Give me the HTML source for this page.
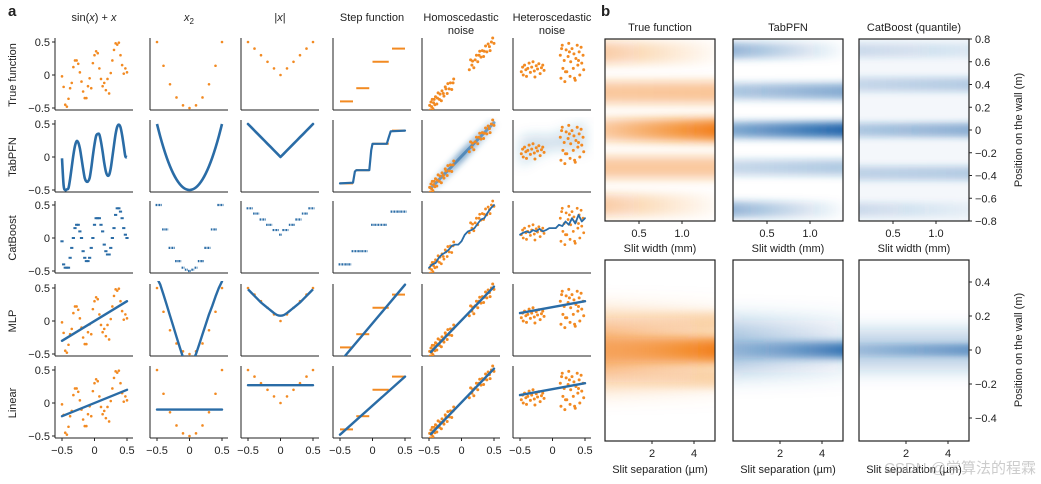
<!DOCTYPE html>
<html><head><meta charset="utf-8">
<style>
body{margin:0;background:#fff;}
svg{display:block;font-family:"Liberation Sans",Arial,sans-serif;}
text{fill:#222;}
</style></head>
<body>
<svg id="fig" width="1041" height="484" viewBox="0 0 1041 484" xmlns="http://www.w3.org/2000/svg">
<defs id="defs"></defs>
<g id="layer"></g>
</svg>
<script>
// ---------- data ----------
const gridX = [-0.5,-0.45,-0.4,-0.35,-0.3,-0.25,-0.2,-0.15,-0.1,-0.05,0,0.05,0.1,0.15,0.2,0.25,0.3,0.35,0.4,0.45,0.5];
const sinX = [-0.5,-0.475,-0.45,-0.425,-0.4,-0.375,-0.35,-0.325,-0.3,-0.275,-0.25,-0.225,-0.2,-0.175,-0.15,-0.125,-0.1,-0.075,-0.05,-0.025,0,0.025,0.05,0.075,0.1,0.125,0.15,0.175,0.2,0.225,0.25,0.275,0.3,0.325,0.35,0.375,0.4,0.425,0.45,0.475,0.5];
const sinY = [-0.02,-0.43,-0.5,-0.49,-0.47,-0.33,-0.15,0.03,0.17,0.24,0.22,0.13,-0.02,-0.18,-0.32,-0.37,-0.37,-0.32,-0.17,0.02,0.19,0.32,0.35,0.34,0.23,0.08,-0.09,-0.22,-0.28,-0.27,-0.17,0.0,0.18,0.35,0.46,0.49,0.45,0.33,0.17,0.01,0.0];
const sinTrue = [-0.02,-0.18,-0.45,-0.48,-0.36,-0.2,-0.12,0.12,0.22,0.22,0.17,0.04,-0.1,-0.25,-0.35,-0.35,-0.17,-0.05,-0.2,0.18,0.3,0.36,0.33,0.1,-0.06,-0.17,-0.12,-0.23,-0.06,-0.28,0.03,0.22,0.38,0.48,0.46,0.49,0.3,0.15,0.02,0.1,0.04];
const sinCat = [-0.05,-0.4,-0.45,-0.45,-0.45,-0.3,-0.15,0.0,0.15,0.2,0.2,0.1,0.0,-0.2,-0.3,-0.35,-0.35,-0.3,-0.15,0.0,0.2,0.3,0.3,0.3,0.2,0.1,-0.1,-0.2,-0.25,-0.25,-0.15,0.0,0.15,0.35,0.45,0.45,0.4,0.3,0.15,0.05,0.0];
const sinMLP = [-0.3,0.3];
const sinLin = [-0.2,0.2];
const sqTrueX = [-0.5,-0.4,-0.3,-0.2,-0.1,0,0.1,0.2,0.3,0.4,0.5];
const sqTrueY = [0.5,0.14,-0.14,-0.34,-0.46,-0.5,-0.46,-0.34,-0.14,0.14,0.5];
const sqTab = [0.5,0.31,0.14,-0.01,-0.14,-0.25,-0.34,-0.41,-0.46,-0.49,-0.5,-0.49,-0.46,-0.41,-0.34,-0.25,-0.14,-0.01,0.14,0.31,0.5];
const sqCat = [0.5,0.5,0.13,0.13,-0.15,-0.15,-0.35,-0.35,-0.45,-0.48,-0.5,-0.48,-0.45,-0.35,-0.35,-0.15,-0.15,0.13,0.13,0.5,0.5];
const sqMLP = [0.65,0.55,0.4,0.24,0.08,-0.08,-0.24,-0.4,-0.55,-0.6,-0.6,-0.6,-0.5,-0.35,-0.2,-0.05,0.1,0.23,0.37,0.5,0.6];
const sqLin = [-0.1,-0.1];
const absTrueY = [0.5,0.4,0.3,0.2,0.1,0,0.1,0.2,0.3,0.4,0.5];
const absTab = [0.5,0.45,0.4,0.35,0.3,0.25,0.2,0.15,0.1,0.05,0.0,0.05,0.1,0.15,0.2,0.25,0.3,0.35,0.4,0.45,0.5];
const absCat = [0.45,0.45,0.37,0.37,0.28,0.28,0.2,0.2,0.12,0.12,0.05,0.12,0.12,0.2,0.2,0.28,0.28,0.37,0.37,0.45,0.45];
const absMLP = [0.48,0.43,0.38,0.33,0.28,0.24,0.2,0.16,0.12,0.09,0.08,0.09,0.12,0.16,0.2,0.24,0.28,0.33,0.38,0.43,0.48];
const absLin = [0.27,0.27];
const stepX0 = [-0.5,-0.25,0.0,0.3];
const stepX1 = [-0.3,-0.05,0.25,0.5];
const stepLvl = [-0.4,-0.2,0.2,0.4];
const stepTabX = [-0.5,-0.3,-0.27,-0.25,-0.05,-0.02,0.0,0.22,0.25,0.28,0.5];
const stepTabY = [-0.4,-0.39,-0.22,-0.2,-0.2,0.1,0.2,0.2,0.3,0.39,0.4];
const stepCat = [-0.4,-0.4,-0.4,-0.4,-0.2,-0.2,-0.2,-0.2,-0.2,null,0.2,0.2,0.2,0.2,0.2,null,0.4,0.4,0.4,0.4,0.4];
const stepMLP = [-0.62,0.55];
const stepLin = [-0.48,0.4];
const homoX = [-0.49,-0.48,-0.47,-0.46,-0.45,-0.44,-0.43,-0.42,-0.41,-0.4,-0.38,-0.37,-0.36,-0.34,-0.33,-0.31,-0.3,-0.28,-0.27,-0.25,-0.24,-0.22,-0.21,-0.19,-0.17,-0.15,-0.13,-0.12,0.12,0.14,0.16,0.17,0.19,0.21,0.23,0.25,0.27,0.28,0.3,0.32,0.34,0.35,0.37,0.39,0.41,0.43,0.44,0.46,0.48,0.5];
const homoN = [0.03,-0.05,0.06,-0.02,0.08,-0.07,0.01,0.05,-0.04,0.07,-0.06,0.02,0.09,-0.03,0.04,-0.08,0.06,0.0,-0.05,0.07,0.03,-0.06,0.08,-0.02,0.05,-0.07,0.01,0.06,-0.04,0.09,-0.01,0.04,-0.08,0.02,0.07,-0.05,0.03,0.08,-0.03,0.05,-0.06,0.01,0.07,-0.04,0.06,0.0,-0.07,0.04,0.08,-0.02];
const homoCat = [-0.45,-0.4,-0.38,-0.3,-0.25,-0.22,-0.18,-0.12,-0.1,-0.1,-0.05,0.05,0.1,0.12,0.15,0.22,0.28,0.3,0.38,0.45,0.5];
const homoLine = [-0.47,0.52];
const hetX = [-0.48,-0.46,-0.45,-0.43,-0.41,-0.4,-0.38,-0.36,-0.34,-0.32,-0.3,-0.28,-0.27,-0.25,-0.23,-0.21,-0.19,-0.17,-0.15,-0.13,0.12,0.13,0.15,0.16,0.18,0.19,0.21,0.22,0.24,0.25,0.27,0.28,0.3,0.32,0.33,0.35,0.36,0.38,0.39,0.41,0.42,0.44,0.45,0.47,0.48,0.14,0.2,0.26,0.34,0.4];
const hetY = [0.05,0.12,0.0,0.15,0.08,-0.02,0.1,0.18,0.04,0.12,0.2,0.06,-0.03,0.14,0.09,0.17,0.02,0.11,0.15,0.07,0.3,-0.05,0.45,0.1,0.22,-0.1,0.38,0.05,0.28,0.48,-0.02,0.2,0.4,0.1,0.32,-0.08,0.25,0.45,0.15,0.35,0.0,0.42,0.18,0.3,0.08,0.4,0.05,0.35,-0.05,0.22];
const hetCat = [0.05,0.08,0.1,0.08,0.12,0.1,0.14,0.1,0.12,0.15,0.15,0.15,0.2,0.18,0.25,0.2,0.3,0.22,0.35,0.25,0.3];
const hetTab = [0.08,0.1,0.12,0.14,0.16,0.17,0.18,0.19,0.2,0.21,0.22,0.23,0.24,0.25,0.26,0.27,0.28,0.28,0.29,0.29,0.3];
const hetLine = [0.12,0.3];
const colTitles = ["sin(x) + x","x2","|x|","Step function","Homoscedastic|noise","Heteroscedastic|noise"];
const rowTitles = ["True function","TabPFN","CatBoost","MLP","Linear"];
const yTicks = [0.5,0,-0.5];
const xTicks = [-0.5,0,0.5];
// heatmap bands (panel b)
const tfTopC = [0.68,0.33,0,-0.33,-0.66], tfTopL=[0.4,0.42,0.4,0.42,0.4], tfTopR=[0.02,0.45,1.0,0.42,0.02];
const tbTopC = [0.7,0.34,0,-0.33,-0.7], tbTopL=[0.5,0.35,0.55,0.25,0.5], tbTopR=[0.0,0.55,1.0,0.35,0.0];
const cbTopC = [0.7,0.4,0,-0.38,-0.7], cbTopL=[0.2,0.22,0.32,0.25,0.2], cbTopR=[0.1,0.3,0.5,0.3,0.05];
const topTicks = [0.8,0.6,0.4,0.2,0,-0.2,-0.4,-0.6,-0.8];
const botTicks = [0.4,0.2,0,-0.2,-0.4];
const widthTicks = [0.5,1.0];
const sepTicks = [2,4];

// ---------- helpers ----------
const NS="http://www.w3.org/2000/svg";
const layer=document.getElementById('layer');
const defs=document.getElementById('defs');
const ORANGE="#f28a22", BLUE="#2a6ca6";
function mk(tag,attrs,parent){const e=document.createElementNS(NS,tag);for(const k in attrs)e.setAttribute(k,attrs[k]);(parent||layer).appendChild(e);return e;}
function txt(s,x,y,size,anchor,parent,extra){const t=mk('text',Object.assign({x:x,y:y,'font-size':size,'text-anchor':anchor||'middle'},extra||{}),parent);t.textContent=s;return t;}
const colL=[55,150,241,333,422,513];
const rowT=[38,120,201,284,366];
function sx(c,v){return colL[c]+7+(v+0.5)*65;}
function sy(r,v){return rowT[r]+4+(0.5-v)*66;}
function panelGroup(c,r){
  const id='clip'+c+'_'+r;
  const cp=mk('clipPath',{id:id},defs);mk('rect',{x:colL[c]+1,y:rowT[r]-3,width:80,height:75},cp);
  const g=mk('g',{'clip-path':'url(#'+id+')'});
  
  
  return g;
}
function dots(g,c,r,xs,ys,col,rad){xs.forEach((x,i)=>{if(ys[i]===null)return;const d=mk('circle',{cx:sx(c,x),cy:sy(r,ys[i]),r:rad||1.3,fill:col},g);});}
function poly(g,c,r,xs,ys,col,w){const p=xs.map((x,i)=>sx(c,x).toFixed(1)+','+sy(r,ys[i]).toFixed(1)).join(' ');const l=mk('polyline',{points:p,fill:'none',stroke:col,'stroke-width':w||2.4,'stroke-linejoin':'round','stroke-linecap':'round'},g);return l;}
function smooth(g,c,r,xs,ys,col,w){
  const P=xs.map((x,i)=>[sx(c,x),sy(r,ys[i])]);let d='M'+P[0][0]+','+P[0][1];
  for(let i=0;i<P.length-1;i++){const p0=P[Math.max(0,i-1)],p1=P[i],p2=P[i+1],p3=P[Math.min(P.length-1,i+2)];
    d+=' C'+(p1[0]+(p2[0]-p0[0])/6)+','+(p1[1]+(p2[1]-p0[1])/6)+' '+(p2[0]-(p3[0]-p1[0])/6)+','+(p2[1]-(p3[1]-p1[1])/6)+' '+p2[0]+','+p2[1];}
  const l=mk('path',{d:d,fill:'none',stroke:col,'stroke-width':w||2.4},g);}
function catDots(g,c,r,xs,ys){
  for(let i=0;i<xs.length;i++){if(ys[i]===null)continue;const x0=xs[i]-0.022,x1=xs[i]+0.022;
    const l=mk('line',{x1:sx(c,x0),x2:sx(c,x1),y1:sy(r,ys[i]),y2:sy(r,ys[i]),stroke:BLUE,'stroke-width':2.2,'stroke-dasharray':'1.6 0.6'},g);
    }}
function endLine(g,c,r,ys,col){return poly(g,c,r,[-0.5,0.5],ys,col,2.4);}

// ---------- panel a ----------
txt('a',8,16,15,'start',null,{'font-weight':'bold'});
colTitles.forEach((t,c)=>{
  const cx=colL[c]+39;const parts=t.split('|');
  if(t==='x2'){const e=txt('',cx,21,11,'middle');e.innerHTML='<tspan font-style="italic">x</tspan><tspan font-size="8" dy="3">2</tspan>';return;}
  if(t==='sin(x) + x'){const e=txt('',cx,21,11,'middle');e.innerHTML='sin(<tspan font-style="italic">x</tspan>) + <tspan font-style="italic">x</tspan>';return;}
  if(t==='|x|'){const e=txt('',cx,21,11,'middle');e.innerHTML='|<tspan font-style="italic">x</tspan>|';return;}
  parts.forEach((p,k)=>{const e=txt(p,cx,21+k*13,11,'middle');});
});
rowTitles.forEach((t,r)=>{const cy=rowT[r]+37;const e=txt(t,16,cy,11,'middle',null,{transform:'rotate(-90 16 '+cy+')'});});

for(let r=0;r<5;r++){for(let c=0;c<6;c++){
  const ax=mk('g',{});
  const x0=colL[c],yb=rowT[r]+72;
  mk('line',{x1:x0,x2:x0,y1:rowT[r],y2:yb,stroke:'#222','stroke-width':1},ax);
  mk('line',{x1:x0,x2:x0+78,y1:yb,y2:yb,stroke:'#222','stroke-width':1},ax);
  if(c===0){yTicks.forEach(v=>{mk('line',{x1:x0-3,x2:x0,y1:sy(r,v),y2:sy(r,v),stroke:'#222'},ax);const e=txt(v===-0.5?'\u22120.5':String(v),x0-5,sy(r,v)+4,11,'end',ax);});}
  if(r===4){xTicks.forEach(v=>{mk('line',{x1:sx(c,v),x2:sx(c,v),y1:yb,y2:yb+3,stroke:'#222'},ax);const e=txt(v===-0.5?'\u22120.5':String(v),sx(c,v),yb+16,11,'middle',ax);});}
}}

let g=panelGroup(0,0);dots(g,0,0,sinX,sinTrue,ORANGE);
g=panelGroup(0,1);smooth(g,0,1,sinX,sinY,BLUE,2.6);
g=panelGroup(0,2);sinX.forEach((x,i)=>{const d=mk('rect',{x:sx(0,x)-1.6,y:sy(2,sinCat[i])-1,width:3.2,height:2,fill:BLUE},g);});
g=panelGroup(0,3);dots(g,0,3,sinX,sinTrue,ORANGE);endLine(g,0,3,sinMLP,BLUE);
g=panelGroup(0,4);dots(g,0,4,sinX,sinTrue,ORANGE);endLine(g,0,4,sinLin,BLUE);
g=panelGroup(1,0);dots(g,1,0,sqTrueX,sqTrueY,ORANGE);
g=panelGroup(1,1);smooth(g,1,1,gridX,sqTab,BLUE,2.6);
g=panelGroup(1,2);catDots(g,1,2,gridX,sqCat);
g=panelGroup(1,3);dots(g,1,3,sqTrueX,sqTrueY,ORANGE);poly(g,1,3,gridX,sqMLP,BLUE);
g=panelGroup(1,4);dots(g,1,4,sqTrueX,sqTrueY,ORANGE);endLine(g,1,4,sqLin,BLUE);
g=panelGroup(2,0);dots(g,2,0,sqTrueX,absTrueY,ORANGE);
g=panelGroup(2,1);poly(g,2,1,gridX,absTab,BLUE,2.6);
g=panelGroup(2,2);catDots(g,2,2,gridX,absCat);
g=panelGroup(2,3);dots(g,2,3,sqTrueX,absTrueY,ORANGE);smooth(g,2,3,gridX,absMLP,BLUE);
g=panelGroup(2,4);dots(g,2,4,sqTrueX,absTrueY,ORANGE);endLine(g,2,4,absLin,BLUE);
function stepSegs(g,r){stepLvl.forEach((v,i)=>{const l=mk('line',{x1:sx(3,stepX0[i]),x2:sx(3,stepX1[i]),y1:sy(r,v),y2:sy(r,v),stroke:ORANGE,'stroke-width':2},g);});}
g=panelGroup(3,0);stepSegs(g,0);
g=panelGroup(3,1);stepSegs(g,1);poly(g,3,1,stepTabX,stepTabY,BLUE,2.2);
g=panelGroup(3,2);catDots(g,3,2,gridX,stepCat);
g=panelGroup(3,3);stepSegs(g,3);endLine(g,3,3,stepMLP,BLUE);
g=panelGroup(3,4);stepSegs(g,4);endLine(g,3,4,stepLin,BLUE);
const homoY=homoX.map((x,i)=>x+homoN[i]);
g=panelGroup(4,0);dots(g,4,0,homoX,homoY,ORANGE,1.5);
g=panelGroup(4,1);
{const gr=mk('linearGradient',{id:'homoBand',x1:0,y1:0,x2:1,y2:0},defs);mk('stop',{offset:0,'stop-color':BLUE,'stop-opacity':0.15},gr);mk('stop',{offset:0.5,'stop-color':BLUE,'stop-opacity':0.6},gr);mk('stop',{offset:1,'stop-color':BLUE,'stop-opacity':0.15},gr);
 const f=mk('filter',{id:'blur3',x:'-50%',y:'-50%',width:'200%',height:'200%'},defs);mk('feGaussianBlur',{stdDeviation:3},f);
 const l=mk('line',{x1:sx(4,-0.47),y1:sy(1,homoLine[0]),x2:sx(4,0.5),y2:sy(1,homoLine[1]),stroke:'url(#homoBand)','stroke-width':9,filter:'url(#blur3)'},g);}
poly(g,4,1,[-0.47,0.5],homoLine,'rgba(42,108,166,0.6)',3);
dots(g,4,1,homoX,homoY,ORANGE,1.5);
g=panelGroup(4,2);dots(g,4,2,homoX,homoY,ORANGE,1.4);poly(g,4,2,gridX,homoCat,BLUE,1.8);
g=panelGroup(4,3);dots(g,4,3,homoX,homoY,ORANGE,1.5);poly(g,4,3,[-0.47,0.5],homoLine,BLUE);
g=panelGroup(4,4);dots(g,4,4,homoX,homoY,ORANGE,1.5);poly(g,4,4,[-0.47,0.5],homoLine,BLUE);
g=panelGroup(5,0);dots(g,5,0,hetX,hetY,ORANGE,1.5);
g=panelGroup(5,1);
{const f=mk('filter',{id:'blur6',x:'-50%',y:'-50%',width:'200%',height:'200%'},defs);mk('feGaussianBlur',{stdDeviation:6},f);
 const P=gridX.map((x,i)=>sx(5,x)+','+sy(1,hetTab[i]+0.1+Math.abs(x)*0.25)).concat(gridX.slice().reverse().map((x,i)=>sx(5,x)+','+sy(1,hetTab[20-i]-0.1-Math.abs(x)*0.25))).join(' ');
 const pg=mk('polygon',{points:P,fill:'rgba(42,108,166,0.22)',filter:'url(#blur6)'},g);}
dots(g,5,1,hetX,hetY,ORANGE,1.5);
g=panelGroup(5,2);dots(g,5,2,hetX,hetY,ORANGE,1.4);poly(g,5,2,gridX,hetCat,BLUE,1.8);
g=panelGroup(5,3);dots(g,5,3,hetX,hetY,ORANGE,1.5);endLine(g,5,3,hetLine,BLUE);
g=panelGroup(5,4);dots(g,5,4,hetX,hetY,ORANGE,1.5);endLine(g,5,4,hetLine,BLUE);

// ---------- panel b ----------
txt('b',601,16,15,'start',null,{'font-weight':'bold'});
const boxX=[605,733,859], boxW=110;
const topY0=39, topY1=221, botY0=260, botY1=441;
function tyTop(v){return topY0+(0.8-v)*(topY1-topY0)/1.6;}
function tyBot(v){return 350-v*170;}
function wx(b,v){return boxX[b]+34+(v-0.5)*86;}
function sepx(b,v){return boxX[b]+47+(v-2)*21;}
const rgbO='242,125,20', rgbB='33,102,172';
let gid=0;
function band(gp,b,ypx,halfPx,aL,aR,rgb){
  const id='bg'+(gid++);const gr=mk('linearGradient',{id:id,x1:0,y1:0,x2:1,y2:0},defs);
  mk('stop',{offset:0,'stop-color':'rgb('+rgb+')','stop-opacity':aL},gr);mk('stop',{offset:1,'stop-color':'rgb('+rgb+')','stop-opacity':aR},gr);
  const fid='bf'+id;const f=mk('filter',{id:fid,x:'-10%',y:'-200%',width:'120%',height:'500%'},defs);mk('feGaussianBlur',{stdDeviation:'0 '+(halfPx*0.45)},f);
  const r=mk('rect',{x:boxX[b]-5,y:ypx-halfPx,width:boxW+10,height:2*halfPx,fill:'url(#'+id+')',filter:'url(#'+fid+')'},gp);
  
}
function heatBox(b,y0,y1,name){
  const id='hc'+b+'_'+y0;const cp=mk('clipPath',{id:id},defs);mk('rect',{x:boxX[b],y:y0,width:boxW,height:y1-y0},cp);
  const gp=mk('g',{'clip-path':'url(#'+id+')'});return gp;}
function frame(b,y0,y1){const r=mk('rect',{x:boxX[b],y:y0,width:boxW,height:y1-y0,fill:'none',stroke:'#222','stroke-width':1.2});}
let hp=heatBox(0,topY0,topY1,'heatmap-true-slit-width');tfTopC.forEach((c,i)=>band(hp,0,tyTop(c),11,tfTopL[i],tfTopR[i],rgbO));
hp=heatBox(1,topY0,topY1,'heatmap-tabpfn-slit-width');tbTopC.forEach((c,i)=>band(hp,1,tyTop(c),8,tbTopL[i],tbTopR[i],rgbB));
hp=heatBox(2,topY0,topY1,'heatmap-catboost-slit-width');mk('rect',{x:boxX[2],y:topY0,width:boxW,height:topY1-topY0,fill:'rgba(33,102,172,0.05)'},hp);cbTopC.forEach((c,i)=>band(hp,2,tyTop(c),7,cbTopL[i],cbTopR[i],rgbB));
hp=heatBox(0,botY0,botY1,'heatmap-true-slit-sep');band(hp,0,tyBot(0),32,0.6,0.2,rgbO);band(hp,0,tyBot(0),12,0.3,1.0,rgbO);band(hp,0,tyBot(0.17),9,0.0,0.25,rgbO);band(hp,0,tyBot(-0.17),9,0.0,0.25,rgbO);
hp=heatBox(1,botY0,botY1,'heatmap-tabpfn-slit-sep');band(hp,1,tyBot(0.02),26,0.4,0.12,rgbB);band(hp,1,tyBot(0),8,0.15,0.9,rgbB);
hp=heatBox(2,botY0,botY1,'heatmap-catboost-slit-sep');band(hp,2,tyBot(0),20,0.3,0.3,rgbB);band(hp,2,tyBot(0.0),6,0.2,0.55,rgbB);
[0,1,2].forEach(b=>{frame(b,topY0,topY1);frame(b,botY0,botY1);});
['True function','TabPFN','CatBoost (quantile)'].forEach((t,b)=>{const e=txt(t,boxX[b]+55,31,11,'middle');});
[0,1,2].forEach(b=>{
  widthTicks.forEach(v=>{mk('line',{x1:wx(b,v),x2:wx(b,v),y1:topY1,y2:topY1+3,stroke:'#222'});const e=txt(v.toFixed(1),wx(b,v),237,11,'middle');});
  const e=txt('Slit width (mm)',boxX[b]+55,252,11,'middle');
  sepTicks.forEach(v=>{mk('line',{x1:sepx(b,v),x2:sepx(b,v),y1:botY1,y2:botY1+3,stroke:'#222'});const e2=txt(String(v),sepx(b,v),457,11,'middle');});
  const e3=txt('Slit separation (\u00b5m)',boxX[b]+55,473,11,'middle');
});
const rx=boxX[2]+boxW;
topTicks.forEach(v=>{mk('line',{x1:rx,x2:rx+3,y1:tyTop(v),y2:tyTop(v),stroke:'#222'});const e=txt(v<0?'\u2212'+Math.abs(v):String(v),rx+6,tyTop(v)+4,11,'start');});
botTicks.forEach(v=>{mk('line',{x1:rx,x2:rx+3,y1:tyBot(v),y2:tyBot(v),stroke:'#222'});const e=txt(v<0?'\u2212'+Math.abs(v):String(v),rx+6,tyBot(v)+4,11,'start');});
[[130,'y-axis-title-top'],[350,'y-axis-title-bottom']].forEach(([cy,n])=>{const e=txt('Position on the wall (m)',1022,cy,11,'middle',null,{transform:'rotate(-90 1022 '+cy+')'});});
const wm=txt('CSDN @学算法的程霖',1036,473,15,'end',null,{style:'fill:rgba(170,170,170,0.6)','font-family':'"Liberation Sans","Noto Sans CJK SC",sans-serif'});


</script>
</body></html>
